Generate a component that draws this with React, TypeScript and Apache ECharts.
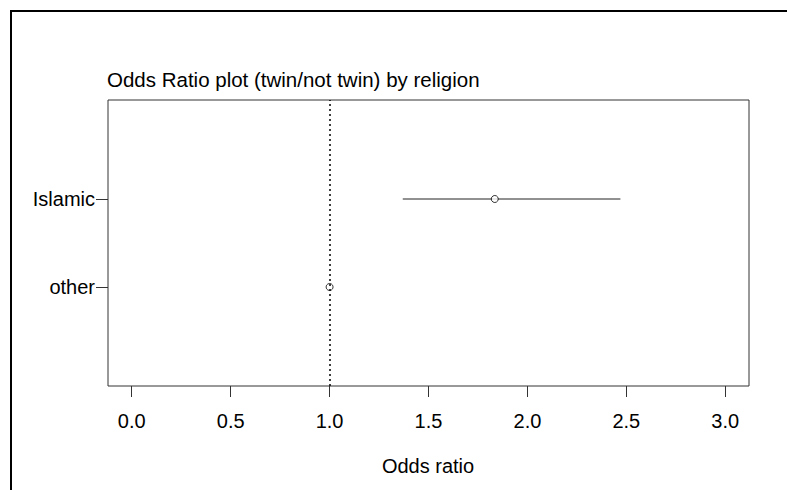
import React, { useEffect, useRef } from "react";
import * as echarts from "echarts";

const categories = ["Islamic", "other"];
const oddsRatio = [1.835, 1.0];
const lowerCI = [1.37, 1.0];
const upperCI = [2.47, 1.0];
const xTicks = [0, 0.5, 1, 1.5, 2, 2.5, 3];
const refValue = 1.0;

const FONT = "'Liberation Sans', Arial, sans-serif";

export default function App() {
  const ref = useRef<HTMLDivElement>(null);
  useEffect(() => {
    document.body.style.margin = "0";
    document.body.style.background = "#ffffff";
    const chart = echarts.init(ref.current!, null, { renderer: "svg" });
    const n = categories.length;
    const yPos = categories.map((_, i) => n - i);
    const labelMap: Record<number, string> = {};
    categories.forEach((c, i) => (labelMap[yPos[i]] = c));

    const ciSeries = categories.map((c, i) => ({
      type: "line",
      name: c + " CI",
      data: [
        [lowerCI[i], yPos[i]],
        [upperCI[i], yPos[i]],
      ],
      showSymbol: false,
      symbol: "none",
      lineStyle: { color: "#222", width: 1 },
      silent: true,
      z: 2,
    }));

    chart.setOption({
      animation: false,
      backgroundColor: "#ffffff",
      textStyle: { fontFamily: FONT },
      title: {
        text: "Odds Ratio plot (twin/not twin) by religion",
        left: 107,
        top: 69,
        padding: 0,
        textStyle: { fontFamily: FONT, fontSize: 20.5, fontWeight: "normal", color: "#000" },
      },
      grid: {
        left: 108,
        top: 100,
        right: 38,
        bottom: 104,
        show: true,
        borderColor: "#333",
        borderWidth: 1,
        backgroundColor: "transparent",
      },
      xAxis: {
        type: "value",
        min: -0.12,
        max: 3.12,
        axisLine: { show: false, onZero: false },
        splitLine: { show: false },
        axisTick: {
          show: true,
          length: 11,
          customValues: xTicks,
          lineStyle: { color: "#333", width: 1 },
        },
        axisLabel: {
          customValues: xTicks,
          margin: 25,
          fontSize: 20,
          color: "#000",
          fontFamily: FONT,
          formatter: (v: number) => v.toFixed(1),
        },
      },
      yAxis: {
        type: "value",
        min: -0.125,
        max: 3.125,
        axisLine: { show: false, onZero: false },
        splitLine: { show: false },
        axisTick: {
          show: true,
          length: 12,
          customValues: yPos,
          lineStyle: { color: "#333", width: 1 },
        },
        axisLabel: {
          customValues: yPos,
          margin: 13,
          fontSize: 20,
          color: "#000",
          fontFamily: FONT,
          formatter: (v: number) => labelMap[v] ?? "",
        },
      },
      graphic: [
        {
          type: "polyline",
          shape: { points: [[11, 500], [11, 11], [800, 11]] },
          style: { stroke: "#000", lineWidth: 2, fill: "none" },
          silent: true,
        },
        {
          type: "text",
          x: 428,
          y: 466,
          style: {
            text: "Odds ratio",
            fontSize: 20,
            fontFamily: FONT,
            fill: "#000",
            align: "center",
            verticalAlign: "middle",
          },
        },
      ],
      series: [
        ...ciSeries,
        {
          type: "scatter",
          name: "OR",
          data: categories.map((_, i) => [oddsRatio[i], yPos[i]]),
          symbol: "circle",
          symbolSize: 7,
          itemStyle: { color: "#fff", borderColor: "#000", borderWidth: 1 },
          z: 3,
          markLine: {
            silent: true,
            symbol: "none",
            label: { show: false },
            lineStyle: { type: [2, 3], color: "#000", width: 1.5 },
            data: [{ xAxis: refValue }],
          },
        },
      ],
    });
    return () => chart.dispose();
  }, []);
  return <div ref={ref} style={{ width: 787, height: 490 }} />;
}
